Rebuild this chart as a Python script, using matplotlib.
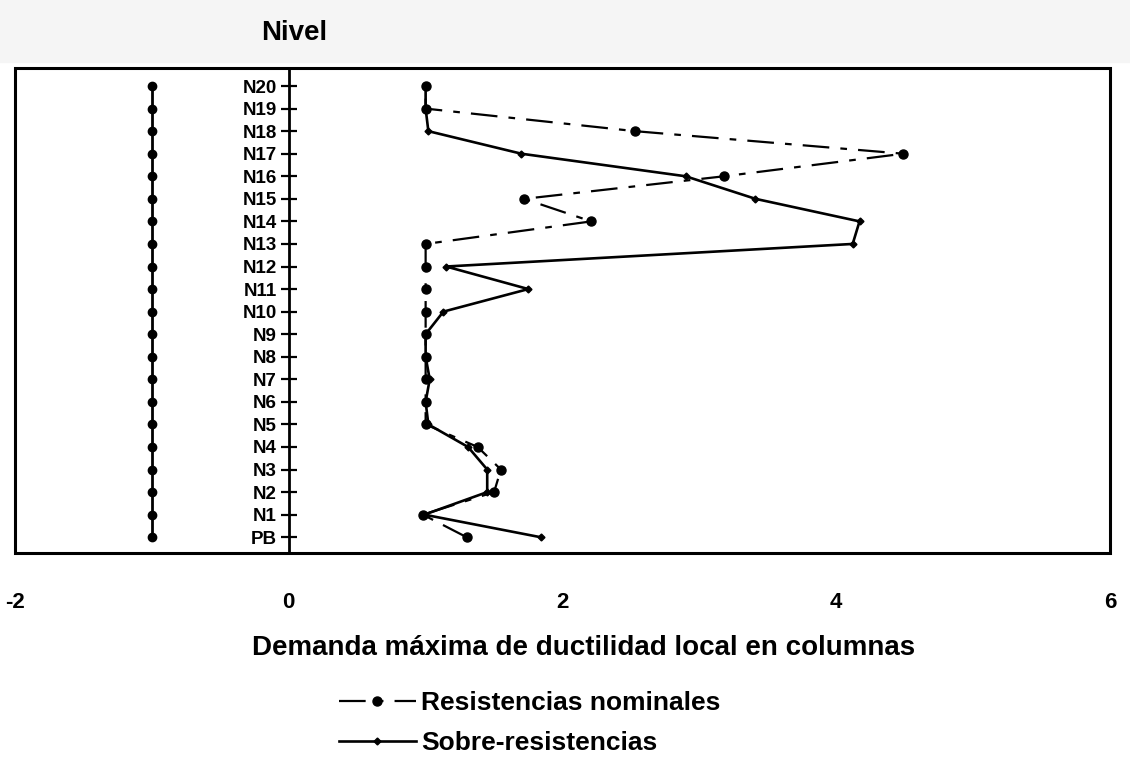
import numpy as np
import matplotlib
matplotlib.use("Agg")
from matplotlib import pyplot as plt
from matplotlib.patches import Rectangle

plt.rcParams['font.family'] = ['Liberation Sans', 'DejaVu Sans']

# niveles, de abajo hacia arriba
levels = ['PB', 'N1', 'N2', 'N3', 'N4', 'N5', 'N6', 'N7', 'N8', 'N9', 'N10',
          'N11', 'N12', 'N13', 'N14', 'N15', 'N16', 'N17', 'N18', 'N19', 'N20']

nominal = [1.30, 0.98, 1.50, 1.55, 1.38, 1.00, 1.00, 1.00, 1.00, 1.00, 1.00,
           1.00, 1.00, 1.00, 2.21, 1.72, 3.18, 4.49, 2.53, 1.00, 1.00]
sobre = [1.84, 0.99, 1.45, 1.45, 1.31, 1.02, 1.00, 1.03, 1.00, 1.00, 1.13,
         1.75, 1.15, 4.12, 4.17, 3.41, 2.90, 1.70, 1.02, 1.00, 1.00]
base = [-1, -1, -1, -1, -1, -1, -1, -1, -1, -1, -1,
        -1, -1, -1, -1, -1, -1, -1, -1, -1, -1]

xticks = [-2, 0, 2, 4, 6]

W, H = 1130, 761
fig = plt.figure(figsize=(W / 100, H / 100), dpi=100)
# banda gris del escaneo arriba
fig.patches.append(Rectangle((0, 1 - 62 / H), 1, 62 / H, transform=fig.transFigure,
                             color='#f5f5f5', zorder=0))
ax = fig.add_axes([15 / W, 1 - 553 / H, 1095 / W, 485 / H])

ypos = np.arange(len(levels))

ax.plot(base, ypos, color='black', lw=2, marker='o', ms=6, zorder=3)
l1, = ax.plot(nominal, ypos, color='black', lw=1.6, linestyle=(0, (12, 5, 3, 5)),
              marker='o', ms=6.5, label='Resistencias nominales', zorder=4)
l2, = ax.plot(sobre, ypos, color='black', lw=1.9, marker='D', ms=3.5,
              label='Sobre-resistencias', zorder=5)

ax.set_xlim(-2, 6)
ax.set_ylim(-0.7, 20.8)

for s in ['top', 'right', 'bottom']:
    ax.spines[s].set_visible(False)
ax.spines['left'].set_position(('data', 0))
ax.spines['left'].set_linewidth(2)
ax.add_patch(Rectangle((0, 0), 1, 1, transform=ax.transAxes, fill=False,
                       lw=2.2, edgecolor='black', clip_on=False, zorder=6))

ax.set_yticks(ypos)
ax.set_yticklabels(levels, fontsize=13.5, fontweight='bold')
ax.tick_params(axis='y', direction='inout', length=11, width=1.6, pad=3)

ax.set_xticks(xticks)
ax.set_xticklabels([str(v) for v in xticks], fontsize=16, fontweight='bold')
ax.tick_params(axis='x', length=0, pad=28)

fig.text(584 / W, 1 - 648 / H, 'Demanda máxima de ductilidad local en columnas',
         ha='center', va='center', fontsize=20, fontweight='bold')

fig.text(294 / W, 1 - 33 / H, 'Nivel', ha='center', va='center',
         fontsize=20, fontweight='bold')

fig.legend(handles=[l1, l2], loc='upper left', bbox_to_anchor=(326 / W, 1 - 678 / H),
           frameon=False, prop={'weight': 'bold', 'size': 19},
           handlelength=2.9, handletextpad=0.2, labelspacing=0.6, borderpad=0)

fig.savefig('out.png', dpi=100)
